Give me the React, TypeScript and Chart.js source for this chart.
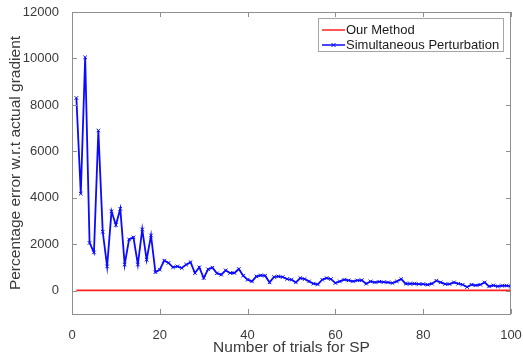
import React, { useEffect, useRef } from "react";
import { Chart, registerables } from "chart.js";

Chart.register(...registerables);

const trials: number[] = [
  1, 2, 3, 4, 5, 6, 7, 8, 9, 10,
  11, 12, 13, 14, 15, 16, 17, 18, 19, 20,
  21, 22, 23, 24, 25, 26, 27, 28, 29, 30,
  31, 32, 33, 34, 35, 36, 37, 38, 39, 40,
  41, 42, 43, 44, 45, 46, 47, 48, 49, 50,
  51, 52, 53, 54, 55, 56, 57, 58, 59, 60,
  61, 62, 63, 64, 65, 66, 67, 68, 69, 70,
  71, 72, 73, 74, 75, 76, 77, 78, 79, 80,
  81, 82, 83, 84, 85, 86, 87, 88, 89, 90,
  91, 92, 93, 94, 95, 96, 97, 98, 99, 100,
];

const ourMethod: number[] = [
  15, 15, 15, 15, 15, 15, 15, 15, 15, 15,
  15, 15, 15, 15, 15, 15, 15, 15, 15, 15,
  15, 15, 15, 15, 15, 15, 15, 15, 15, 15,
  15, 15, 15, 15, 15, 15, 15, 15, 15, 15,
  15, 15, 15, 15, 15, 15, 15, 15, 15, 15,
  15, 15, 15, 15, 15, 15, 15, 15, 15, 15,
  15, 15, 15, 15, 15, 15, 15, 15, 15, 15,
  15, 15, 15, 15, 15, 15, 15, 15, 15, 15,
  15, 15, 15, 15, 15, 15, 15, 15, 15, 15,
  15, 15, 15, 15, 15, 15, 15, 15, 15, 15,
];

const simultaneousPerturbation: number[] = [
  8300, 4180, 10050, 2060, 1650, 6900, 2540, 1050, 3420, 2830,
  3530, 1130, 2210, 2300, 1130, 2640, 1340, 2380, 800, 910,
  1300, 1200, 1010, 1050, 980, 1125, 1230, 765, 1010, 548,
  925, 995, 750, 693, 880, 765, 765, 938, 650, 476,
  404, 620, 664, 650, 360, 592, 620, 592, 505, 476,
  360, 548, 505, 404, 303, 274, 476, 548, 505, 332,
  404, 476, 447, 404, 447, 455, 303, 404, 360, 390,
  375, 360, 332, 404, 505, 303, 303, 303, 289, 289,
  260, 303, 433, 360, 289, 289, 360, 303, 260, 159,
  260, 231, 260, 360, 188, 231, 188, 217, 217, 188,
];

const xTicks: number[] = [0, 20, 40, 60, 80, 100];
const yTicks: number[] = [0, 2000, 4000, 6000, 8000, 10000, 12000];

const FONT = "'Liberation Sans', Arial, Helvetica, sans-serif";
const TEXT = "#3a3a3a";
const AXIS = "#8f8f8f";

const framePlugin = {
  id: "frame",
  afterDatasetsDraw(chart: any) {
    const { ctx, chartArea, scales } = chart;
    const { left, right, top, bottom } = chartArea;
    ctx.save();
    ctx.strokeStyle = AXIS;
    ctx.lineWidth = 1;
    ctx.strokeRect(Math.round(left) + 0.5, Math.round(top) + 0.5, Math.round(right - left) - 1, Math.round(bottom - top));
    ctx.beginPath();
    xTicks.forEach((v) => {
      const px = Math.round(scales.x.getPixelForValue(v)) + 0.5;
      ctx.moveTo(px, bottom);
      ctx.lineTo(px, bottom - 5);
      ctx.moveTo(px, top);
      ctx.lineTo(px, top + 5);
    });
    yTicks.forEach((v) => {
      const py = Math.round(scales.y.getPixelForValue(v)) + 0.5;
      ctx.moveTo(left, py);
      ctx.lineTo(left + 5, py);
      ctx.moveTo(right, py);
      ctx.lineTo(right - 5, py);
    });
    ctx.stroke();
    ctx.restore();
  },
};

const legendPlugin = {
  id: "boxLegend",
  afterDraw(chart: any) {
    const { ctx, chartArea } = chart;
    const sets = chart.data.datasets;
    ctx.save();
    ctx.font = `13px ${FONT}`;
    let maxW = 0;
    sets.forEach((d: any) => {
      maxW = Math.max(maxW, ctx.measureText(d.label).width);
    });
    const boxW = Math.round(maxW + 32);
    const boxH = 33;
    const bx = Math.round(chartArea.right - 8 - boxW);
    const by = Math.round(chartArea.top + 6);
    ctx.fillStyle = "#ffffff";
    ctx.fillRect(bx, by, boxW, boxH);
    ctx.strokeStyle = "#a6a6a6";
    ctx.lineWidth = 1;
    ctx.strokeRect(bx + 0.5, by + 0.5, boxW, boxH);
    sets.forEach((d: any, i: number) => {
      const cy = by + 12 + i * 15;
      ctx.strokeStyle = d.borderColor;
      ctx.lineWidth = 1.5;
      ctx.beginPath();
      ctx.moveTo(bx + 4, cy);
      ctx.lineTo(bx + 27, cy);
      ctx.stroke();
      if (d.pointStyle === "crossRot") {
        const mx = bx + 15.5;
        ctx.lineWidth = 1;
        ctx.beginPath();
        ctx.moveTo(mx - 2, cy - 2);
        ctx.lineTo(mx + 2, cy + 2);
        ctx.moveTo(mx - 2, cy + 2);
        ctx.lineTo(mx + 2, cy - 2);
        ctx.stroke();
      }
      ctx.fillStyle = "#1a1a1a";
      ctx.textBaseline = "middle";
      ctx.textAlign = "left";
      ctx.fillText(d.label, bx + 28, cy + 0.5);
    });
    ctx.restore();
  },
};

export default function App() {
  const ref = useRef<HTMLCanvasElement | null>(null);

  useEffect(() => {
    if (!ref.current) return;
    const chart = new Chart(ref.current, {
      type: "line",
      data: {
        labels: trials,
        datasets: [
          {
            label: "Our Method",
            data: trials.map((t, i) => ({ x: t, y: ourMethod[i] })),
            borderColor: "#ff2020",
            backgroundColor: "#ff2020",
            borderWidth: 1.6,
            pointRadius: 0,
            pointStyle: "line",
            tension: 0,
          },
          {
            label: "Simultaneous Perturbation",
            data: trials.map((t, i) => ({ x: t, y: simultaneousPerturbation[i] })),
            borderColor: "#0a0aff",
            backgroundColor: "#0a0aff",
            borderWidth: 1.8,
            pointStyle: "crossRot",
            pointRadius: 2.5,
            pointBorderWidth: 1,
            tension: 0,
          },
        ],
      },
      options: {
        responsive: false,
        animation: false,
        layout: { padding: { top: 12, right: 12, left: 0, bottom: 0 } },
        plugins: {
          legend: { display: false },
          tooltip: { enabled: false },
        },
        scales: {
          x: {
            type: "linear",
            min: 0,
            max: 100,
            grid: { display: false },
            border: { display: false },
            afterBuildTicks: (s: any) => {
              s.ticks = xTicks.map((v) => ({ value: v }));
            },
            afterFit: (s: any) => {
              s.height = 44;
              s.paddingLeft = 0;
              s.paddingRight = 0;
            },
            ticks: {
              padding: 6,
              color: TEXT,
              font: { family: FONT, size: 13 },
              maxRotation: 0,
              callback: (v: any) => String(v),
            },
            title: {
              display: true,
              text: "Number of trials for SP",
              color: TEXT,
              font: { family: FONT, size: 15.5 },
              padding: { top: 0, bottom: 1 },
            },
          },
          y: {
            type: "linear",
            min: -1000,
            max: 12000,
            grid: { display: false },
            border: { display: false },
            afterBuildTicks: (s: any) => {
              s.ticks = yTicks.map((v) => ({ value: v }));
            },
            afterFit: (s: any) => {
              s.width = 72;
              s.paddingTop = 0;
              s.paddingBottom = 0;
            },
            ticks: {
              padding: 5,
              color: TEXT,
              font: { family: FONT, size: 13 },
              callback: (v: any) => String(v),
            },
            title: {
              display: true,
              text: "Percentage error w.r.t actual gradient",
              color: TEXT,
              font: { family: FONT, size: 15.5 },
              padding: { top: 6, bottom: 0 },
            },
          },
        },
      },
      plugins: [framePlugin, legendPlugin],
    } as any);
    return () => chart.destroy();
  }, []);

  return (
    <div style={{ position: "fixed", left: 0, top: 0, width: 523, height: 358, background: "#fff" }}>
      <canvas ref={ref} width={523} height={358} />
    </div>
  );
}
